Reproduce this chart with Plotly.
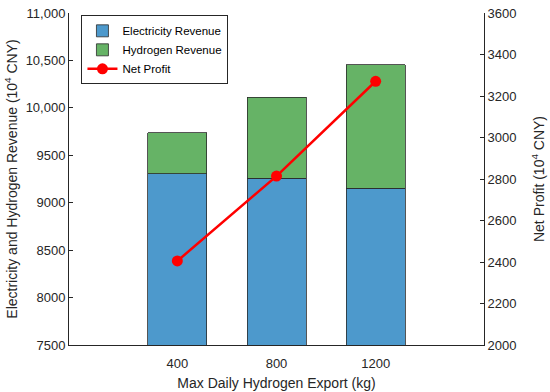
import plotly.graph_objects as go

export_kg = [400, 800, 1200]
tick_labels = ["400", "800", "1200"]
electricity_revenue = [9307, 9257, 9155]
hydrogen_revenue = [432, 857, 1297]
net_profit = [2405, 2814, 3271]

left_ticks = [7500, 8000, 8500, 9000, 9500, 10000, 10500, 11000]
left_ticktext = ["7500", "8000", "8500", "9000", "9500", "10,000", "10,500", "11,000"]
right_ticks = [2000, 2200, 2400, 2600, 2800, 3000, 3200, 3400, 3600]

FONT = "Liberation Sans, Arial, sans-serif"
AX = "#262626"

fig = go.Figure()
fig.add_trace(go.Bar(
    x=export_kg, y=electricity_revenue, name="Electricity Revenue",
    marker=dict(color="#4D99CC", line=dict(color="#2b2b2b", width=0.8)),
    width=238,
))
fig.add_trace(go.Bar(
    x=export_kg, y=hydrogen_revenue, name="Hydrogen Revenue",
    marker=dict(color="#66B366", line=dict(color="#2b2b2b", width=0.8)),
    width=238,
))
fig.add_trace(go.Scatter(
    x=export_kg, y=net_profit, name="Net Profit", yaxis="y2",
    mode="lines+markers",
    line=dict(color="#FF0000", width=2.5),
    marker=dict(color="#FF0000", size=11),
))

fig.update_layout(
    barmode="stack",
    width=550, height=392,
    margin=dict(l=69, r=66, t=13, b=47),
    paper_bgcolor="white", plot_bgcolor="white",
    font=dict(family=FONT, size=13, color=AX),
    showlegend=True,
    legend=dict(
        x=0.03, y=0.993, xanchor="left", yanchor="top",
        bgcolor="white", bordercolor="#262626", borderwidth=1,
        font=dict(size=11.5, color="#000000"),
        tracegroupgap=0, traceorder="normal",
        itemwidth=30,
    ),
    xaxis=dict(
        range=[-37, 1637], tickvals=export_kg, ticktext=tick_labels,
        showline=True, linecolor=AX, linewidth=1, ticks="",
        ticklabelstandoff=6,
        showgrid=False, zeroline=False, automargin=False,
        title=dict(text="Max Daily Hydrogen Export (kg)", font=dict(size=14, color=AX), standoff=8),
        tickfont=dict(size=13, color=AX),
    ),
    yaxis=dict(
        range=[7500, 11000], tickvals=left_ticks, ticktext=left_ticktext,
        showline=True, linecolor=AX, linewidth=1, ticks="inside", ticklen=4, tickcolor=AX,
        showgrid=False, zeroline=False, automargin=False,
        title=dict(text="Electricity and Hydrogen Revenue (10<sup>4</sup> CNY)", font=dict(size=14, color=AX), standoff=4),
        tickfont=dict(size=13, color=AX),
    ),
    yaxis2=dict(
        range=[2000, 3600], tickvals=right_ticks,
        overlaying="y", side="right",
        showline=True, linecolor=AX, linewidth=1, ticks="inside", ticklen=4, tickcolor=AX,
        showgrid=False, zeroline=False, automargin=False,
        title=dict(text="Net Profit (10<sup>4</sup> CNY)", font=dict(size=14, color=AX), standoff=18),
        tickfont=dict(size=13, color=AX),
    ),
)

fig.write_html("out.html", config={"displayModeBar": False},
               post_script="document.body.style.margin='0';")
